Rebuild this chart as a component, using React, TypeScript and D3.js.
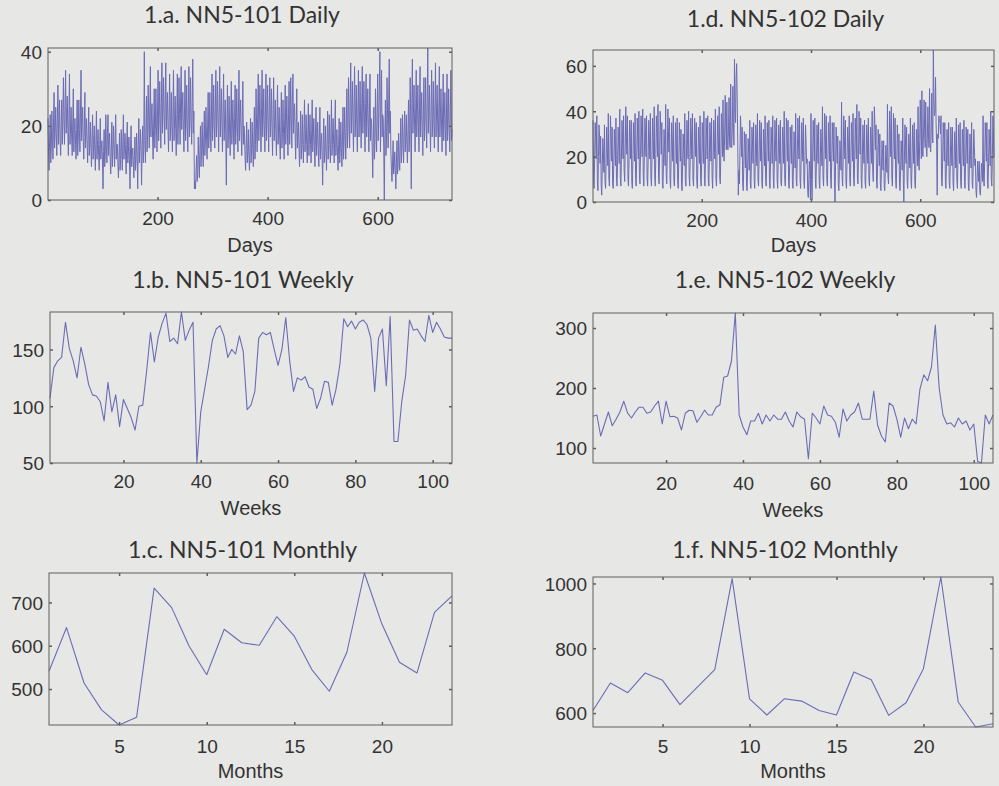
import React, { useEffect, useRef } from "react";
import * as d3 from "d3";

// NN5-101, daily values (one row per week)
const daily101: number[] = [
  22, 13, 8, 17, 23, 10, 14, 24, 17, 11, 21, 29, 14, 18, 25, 18, 12, 22, 31, 15, 20,
  27, 16, 12, 20, 27, 15, 21, 33, 22, 15, 26, 35, 18, 24, 28, 19, 12, 23, 34, 15, 20,
  25, 17, 12, 22, 30, 13, 19, 22, 15, 11, 19, 27, 12, 17, 27, 19, 13, 24, 35, 16, 21,
  25, 16, 11, 20, 29, 14, 19, 22, 15, 10, 18, 25, 12, 16, 21, 14, 9, 17, 23, 11, 15,
  20, 13, 8, 16, 24, 11, 15, 19, 12, 8, 15, 22, 11, 14, 16, 10, 3, 13, 19, 9, 12,
  23, 15, 10, 18, 23, 12, 16, 18, 11, 7, 14, 21, 9, 13, 20, 14, 9, 17, 23, 11, 15,
  15, 10, 6, 12, 18, 8, 11, 19, 13, 8, 16, 23, 11, 15, 18, 12, 7, 15, 21, 10, 13,
  17, 11, 3, 14, 20, 9, 12, 14, 10, 6, 12, 17, 8, 11, 18, 12, 3, 15, 22, 10, 14,
  19, 13, 4, 15, 20, 10, 14, 40, 16, 10, 20, 28, 13, 18, 31, 21, 14, 25, 36, 17, 23,
  26, 17, 11, 21, 30, 14, 19, 30, 20, 13, 24, 35, 16, 22, 32, 21, 14, 26, 37, 18, 24,
  33, 23, 15, 27, 37, 19, 25, 29, 19, 13, 24, 34, 16, 21, 29, 20, 13, 24, 35, 16, 22,
  28, 19, 12, 23, 34, 15, 21, 33, 23, 15, 28, 36, 19, 25, 29, 19, 13, 24, 35, 16, 21,
  31, 20, 13, 25, 36, 17, 23, 33, 21, 15, 26, 38, 18, 24, 3, 5, 3, 8, 12, 5, 7,
  17, 11, 6, 14, 20, 9, 13, 21, 14, 9, 17, 24, 12, 16, 25, 17, 11, 20, 29, 14, 18,
  29, 19, 13, 24, 34, 16, 21, 31, 21, 14, 25, 35, 17, 23, 32, 21, 13, 26, 36, 17, 23,
  30, 20, 13, 24, 34, 16, 22, 27, 17, 4, 21, 31, 14, 19, 28, 18, 12, 22, 32, 15, 20,
  27, 18, 11, 22, 31, 15, 20, 30, 20, 13, 24, 35, 16, 22, 27, 18, 12, 22, 32, 15, 20,
  18, 12, 8, 15, 21, 10, 13, 19, 12, 8, 15, 22, 10, 14, 21, 14, 9, 17, 25, 11, 15,
  30, 19, 13, 24, 34, 16, 22, 31, 20, 13, 25, 35, 17, 22, 30, 20, 13, 24, 34, 16, 22,
  31, 20, 13, 25, 33, 17, 22, 30, 19, 12, 24, 33, 16, 22, 27, 18, 12, 22, 31, 15, 20,
  25, 16, 11, 20, 29, 14, 18, 27, 18, 11, 22, 31, 15, 20, 28, 18, 12, 23, 32, 15, 21,
  33, 22, 14, 27, 34, 18, 24, 26, 17, 11, 21, 30, 14, 19, 21, 14, 9, 17, 24, 11, 15,
  23, 15, 10, 19, 27, 13, 17, 23, 15, 10, 18, 26, 12, 17, 23, 15, 10, 19, 27, 13, 17,
  22, 14, 9, 18, 25, 12, 16, 21, 14, 9, 17, 25, 11, 16, 18, 12, 4, 15, 22, 10, 13,
  20, 13, 8, 16, 24, 11, 15, 23, 15, 10, 18, 27, 12, 17, 22, 15, 10, 18, 27, 12, 16,
  19, 12, 8, 15, 22, 10, 14, 21, 14, 9, 17, 25, 11, 16, 25, 17, 11, 21, 30, 14, 19,
  33, 22, 14, 27, 37, 18, 24, 32, 21, 13, 26, 36, 17, 23, 31, 20, 13, 25, 35, 17, 22,
  32, 21, 14, 26, 36, 18, 24, 32, 21, 13, 26, 34, 17, 23, 30, 20, 13, 24, 34, 16, 22,
  21, 14, 6, 17, 25, 11, 15, 30, 19, 13, 24, 34, 16, 22, 31, 40, 13, 25, 35, 17, 23,
  22, 14, 0, 18, 27, 12, 16, 33, 22, 14, 27, 38, 18, 24, 13, 8, 5, 10, 16, 7, 9,
  13, 8, 3, 10, 16, 7, 9, 18, 12, 8, 15, 22, 10, 14, 23, 15, 10, 19, 24, 13, 17,
  23, 15, 10, 19, 27, 13, 17, 33, 21, 3, 26, 38, 18, 24, 31, 20, 13, 25, 35, 17, 23,
  31, 20, 13, 25, 36, 17, 23, 29, 19, 12, 24, 33, 16, 21, 33, 22, 14, 27, 41, 18, 24,
  31, 20, 13, 25, 35, 17, 22, 32, 21, 14, 26, 37, 17, 24, 31, 20, 13, 25, 36, 17, 23,
  30, 20, 13, 24, 34, 16, 22, 29, 19, 12, 24, 34, 16, 21, 30, 19, 13, 24, 35, 16, 19,
];

// NN5-102, daily values (one row per week)
const daily102: number[] = [
  36, 10, 6, 19, 35, 28, 19, 38, 9, 5, 20, 34, 29, 17, 29, 7, 3, 15, 28, 22, 13,
  34, 9, 6, 17, 33, 24, 16, 39, 11, 7, 20, 38, 28, 18, 33, 8, 6, 16, 32, 24, 16,
  37, 10, 7, 18, 33, 27, 17, 41, 11, 7, 19, 36, 28, 19, 38, 14, 9, 23, 42, 30, 21,
  38, 10, 7, 19, 36, 29, 19, 36, 9, 6, 18, 35, 26, 18, 39, 10, 7, 20, 37, 28, 19,
  40, 11, 8, 21, 38, 30, 20, 41, 12, 7, 20, 37, 31, 20, 38, 10, 7, 19, 36, 29, 19,
  39, 11, 7, 19, 37, 28, 19, 42, 11, 7, 21, 38, 30, 20, 43, 11, 8, 22, 40, 32, 21,
  35, 9, 6, 17, 32, 25, 16, 43, 12, 8, 21, 41, 31, 22, 37, 10, 6, 19, 35, 27, 18,
  38, 10, 7, 18, 35, 28, 17, 37, 9, 6, 18, 35, 27, 18, 32, 8, 5, 16, 30, 23, 16,
  39, 10, 7, 19, 36, 28, 19, 40, 11, 7, 20, 37, 29, 19, 39, 10, 7, 20, 37, 29, 20,
  35, 9, 6, 17, 33, 26, 17, 38, 10, 7, 18, 35, 27, 17, 40, 10, 7, 20, 37, 30, 19,
  38, 10, 7, 19, 35, 28, 18, 37, 11, 6, 19, 36, 27, 19, 41, 11, 7, 20, 38, 30, 21,
  42, 11, 8, 21, 39, 31, 20, 45, 22, 18, 30, 47, 33, 23, 44, 25, 23, 32, 46, 26, 24,
  52, 25, 24, 33, 51, 35, 25, 63, 40, 35, 55, 61, 45, 26, 3, 14, 8, 22, 38, 30, 20,
  33, 8, 5, 16, 31, 24, 15, 30, 8, 5, 15, 28, 22, 14, 36, 9, 6, 18, 33, 26, 17,
  35, 10, 6, 17, 34, 26, 16, 39, 10, 7, 19, 36, 28, 18, 35, 9, 6, 17, 32, 25, 16,
  38, 10, 7, 19, 35, 28, 18, 36, 9, 6, 18, 33, 26, 17, 38, 10, 6, 19, 36, 27, 18,
  37, 10, 6, 18, 34, 26, 17, 36, 9, 7, 18, 33, 27, 17, 40, 10, 7, 19, 37, 29, 18,
  36, 9, 6, 17, 33, 26, 17, 34, 9, 6, 16, 31, 24, 15, 39, 10, 7, 20, 37, 28, 19,
  38, 10, 6, 18, 35, 27, 18, 37, 9, 6, 18, 34, 26, 17, 19, 5, 2, 10, 18, 14, 1,
  39, 10, 1, 19, 36, 28, 18, 37, 10, 6, 18, 34, 27, 17, 35, 9, 6, 17, 32, 25, 16,
  42, 11, 7, 21, 39, 30, 19, 38, 10, 7, 19, 35, 28, 18, 38, 10, 6, 19, 35, 27, 18,
  35, 9, 0, 17, 33, 26, 17, 29, 8, 5, 14, 27, 21, 14, 44, 11, 7, 20, 38, 29, 19,
  36, 9, 6, 18, 33, 26, 17, 38, 10, 7, 19, 35, 28, 18, 39, 10, 7, 20, 37, 28, 19,
  43, 11, 8, 21, 40, 31, 21, 37, 10, 6, 18, 34, 26, 17, 36, 9, 6, 18, 34, 27, 17,
  37, 10, 7, 18, 33, 26, 17, 40, 14, 9, 24, 42, 34, 23, 34, 9, 6, 17, 32, 25, 16,
  30, 8, 5, 15, 27, 21, 14, 27, 7, 5, 13, 25, 20, 13, 43, 11, 8, 21, 40, 31, 20,
  42, 11, 7, 21, 39, 30, 19, 37, 10, 6, 18, 34, 26, 17, 30, 8, 5, 14, 27, 21, 14,
  37, 10, 0, 18, 34, 27, 17, 33, 9, 6, 16, 30, 24, 15, 37, 10, 6, 18, 34, 26, 17,
  35, 9, 6, 17, 32, 25, 16, 42, 18, 14, 27, 45, 33, 19, 49, 22, 20, 30, 45, 32, 24,
  44, 24, 20, 28, 42, 30, 24, 50, 26, 22, 30, 48, 33, 26, 67, 45, 38, 40, 55, 35, 25,
  3, 30, 28, 38, 36, 35, 30, 38, 10, 7, 19, 35, 28, 18, 35, 9, 6, 17, 32, 25, 16,
  35, 9, 6, 17, 33, 25, 16, 33, 9, 5, 16, 31, 24, 15, 37, 10, 6, 18, 34, 27, 17,
  35, 9, 6, 17, 32, 25, 16, 36, 9, 6, 18, 33, 26, 17, 32, 8, 5, 16, 30, 23, 15,
  35, 9, 6, 17, 32, 25, 16, 19, 5, 2, 9, 18, 14, 9, 18, 5, 3, 9, 17, 13, 9,
  38, 10, 7, 19, 35, 28, 18, 35, 9, 6, 17, 32, 25, 16, 40, 10, 7, 19, 38, 29, 20,
];

const weekly101: number[] = [
  107, 134, 140, 143, 174, 151, 140, 125, 152, 137,
  119, 110, 109, 104, 87, 121, 95, 110, 82, 106,
  98, 90, 79, 100, 101, 131, 165, 139, 161, 173,
  182, 157, 160, 155, 183, 158, 167, 174, 50, 95,
  115, 135, 158, 168, 171, 162, 143, 150, 146, 162,
  148, 97, 101, 113, 160, 165, 163, 165, 150, 136,
  150, 178, 140, 113, 125, 123, 126, 117, 115, 98,
  107, 122, 121, 101, 115, 137, 177, 170, 175, 168,
  174, 176, 172, 160, 113, 160, 168, 118, 179, 69,
  69, 104, 127, 176, 167, 168, 162, 157, 180, 165,
  174, 168, 161, 160, 160,
];

const weekly102: number[] = [
  153, 155, 120, 140, 160, 137, 148, 160, 178, 158,
  150, 160, 168, 168, 158, 160, 170, 178, 140, 178,
  152, 153, 150, 130, 158, 163, 162, 143, 152, 163,
  155, 155, 168, 172, 218, 220, 245, 325, 155, 135,
  122, 145, 145, 158, 140, 155, 145, 155, 148, 148,
  160, 145, 135, 160, 152, 148, 82, 158, 150, 140,
  170, 155, 153, 143, 118, 165, 145, 155, 160, 175,
  148, 148, 148, 195, 138, 120, 110, 175, 170, 148,
  118, 150, 132, 148, 140, 198, 222, 212, 235, 305,
  200, 155, 140, 142, 135, 150, 140, 145, 130, 140,
  78, 75, 155, 140, 155,
];

const monthly101: number[] = [
  541, 642, 514, 452, 417, 435, 733, 688, 599, 533, 638, 607,
  601, 667, 622, 545, 495, 585, 768, 650, 562, 537, 677, 715,
];

const monthly102: number[] = [
  608, 693, 663, 724, 701, 626, 680, 734, 1015, 644, 594, 644,
  637, 608, 594, 727, 703, 593, 632, 737, 1020, 634, 557, 567,
];

const dayTicks = [200, 400, 600];
const weekTicks = [20, 40, 60, 80, 100];
const monthTicks = [5, 10, 15, 20];

const yTicksDaily101 = [0, 20, 40];
const yTicksDaily102 = [0, 20, 40, 60];
const yTicksWeekly101 = [50, 100, 150];
const yTicksWeekly102 = [100, 200, 300];
const yTicksMonthly101 = [500, 600, 700];
const yTicksMonthly102 = [600, 800, 1000];

const W = 999;
const H = 786;
const BG = "#e7e7e5";
const LINE = "#6c6cb6";
const FRAME = "#5e5e5e";
const TEXT = "#333";

interface Panel {
  title: string;
  xLabel: string;
  values: number[];
  xTicks: number[];
  yTicks: number[];
  box: [number, number, number, number]; // x0, x1, y0, y1
  titleY: number;
  tickY: number;
  labelY: number;
  daily?: boolean;
}

const panels: Panel[] = [
  { title: "1.a. NN5-101 Daily", xLabel: "Days", values: daily101, xTicks: dayTicks, yTicks: yTicksDaily101,
    box: [48, 452, 48, 200], titleY: 23, tickY: 225, labelY: 252, daily: true },
  { title: "1.d. NN5-102 Daily", xLabel: "Days", values: daily102, xTicks: dayTicks, yTicks: yTicksDaily102,
    box: [593, 994, 50, 202], titleY: 27, tickY: 227, labelY: 252, daily: true },
  { title: "1.b. NN5-101 Weekly", xLabel: "Weeks", values: weekly101, xTicks: weekTicks, yTicks: yTicksWeekly101,
    box: [50, 452, 312, 463], titleY: 288, tickY: 488, labelY: 515 },
  { title: "1.e. NN5-102 Weekly", xLabel: "Weeks", values: weekly102, xTicks: weekTicks, yTicks: yTicksWeekly102,
    box: [593, 993, 313, 463], titleY: 288, tickY: 490, labelY: 517 },
  { title: "1.c. NN5-101 Monthly", xLabel: "Months", values: monthly101, xTicks: monthTicks, yTicks: yTicksMonthly101,
    box: [49, 452, 573, 725], titleY: 558, tickY: 753, labelY: 778 },
  { title: "1.f. NN5-102 Monthly", xLabel: "Months", values: monthly102, xTicks: monthTicks, yTicks: yTicksMonthly102,
    box: [593, 993, 577, 727], titleY: 558, tickY: 753, labelY: 778 },
];

const App: React.FC = () => {
  const svgRef = useRef<SVGSVGElement | null>(null);

  useEffect(() => {
    const svg = d3.select(svgRef.current);
    svg.selectAll("*").remove();

    svg.append("rect").attr("width", W).attr("height", H).attr("fill", BG);

    panels.forEach((p) => {
      const [x0, x1, y0, y1] = p.box;
      const x = d3.scaleLinear().domain([1, p.values.length]).range([x0, x1]);
      const [lo, hi] = d3.extent(p.values) as [number, number];
      const y = d3.scaleLinear().domain([lo, hi]).range([y1, y0]);
      const g = svg.append("g");

      // series
      const line = d3
        .line<number>()
        .x((d, i) => x(i + 1))
        .y((d) => y(d));
      g.append("path")
        .datum(p.values)
        .attr("d", line)
        .attr("fill", "none")
        .attr("stroke", LINE)
        .attr("stroke-width", p.daily ? 1 : 1.1)
        .attr("stroke-linejoin", "round");

      // ticks, inward on all four sides
      const styleAxis = (a: d3.Selection<SVGGElement, unknown, null, undefined>) => {
        a.select(".domain").remove();
        a.selectAll("line").attr("stroke", FRAME).attr("stroke-width", 1.5);
      };

      const bottom = g.append("g")
        .attr("transform", `translate(0,${y1})`)
        .call(d3.axisBottom(x).tickValues(p.xTicks).tickSize(-3).tickFormat(d3.format("d")));
      styleAxis(bottom);
      bottom.selectAll("text")
        .attr("y", p.tickY - y1)
        .attr("dy", 0)
        .attr("font-family", "'Liberation Sans', Arial, sans-serif")
        .attr("font-size", 19)
        .attr("fill", TEXT);

      const top = g.append("g")
        .attr("transform", `translate(0,${y0})`)
        .call(d3.axisTop(x).tickValues(p.xTicks).tickSize(-3).tickFormat(() => ""));
      styleAxis(top);

      const left = g.append("g")
        .attr("transform", `translate(${x0},0)`)
        .call(d3.axisLeft(y).tickValues(p.yTicks).tickSize(-3).tickPadding(6).tickFormat(d3.format("d")));
      styleAxis(left);
      left.selectAll("text")
        .attr("dy", "0.36em")
        .attr("font-family", "'Liberation Sans', Arial, sans-serif")
        .attr("font-size", 19)
        .attr("fill", TEXT);

      const right = g.append("g")
        .attr("transform", `translate(${x1},0)`)
        .call(d3.axisRight(y).tickValues(p.yTicks).tickSize(-3).tickFormat(() => ""));
      styleAxis(right);

      // frame
      g.append("rect")
        .attr("x", x0)
        .attr("y", y0)
        .attr("width", x1 - x0)
        .attr("height", y1 - y0)
        .attr("fill", "none")
        .attr("stroke", FRAME)
        .attr("stroke-width", 1);

      // axis label
      g.append("text")
        .attr("x", (x0 + x1) / 2)
        .attr("y", p.labelY)
        .attr("text-anchor", "middle")
        .attr("font-family", "'Liberation Sans', Arial, sans-serif")
        .attr("font-size", 20)
        .attr("fill", TEXT)
        .text(p.xLabel);

      // title
      g.append("text")
        .attr("x", (x0 + x1) / 2 - 8)
        .attr("y", p.titleY)
        .attr("text-anchor", "middle")
        .attr("font-family", "Lato, 'Open Sans', sans-serif")
        .attr("font-size", 23)
        .attr("fill", TEXT)
        .text(p.title);
    });
  }, []);

  return (
    <svg
      ref={svgRef}
      width={W}
      height={H}
      style={{ position: "absolute", left: 0, top: 0, display: "block" }}
    />
  );
};

export default App;
